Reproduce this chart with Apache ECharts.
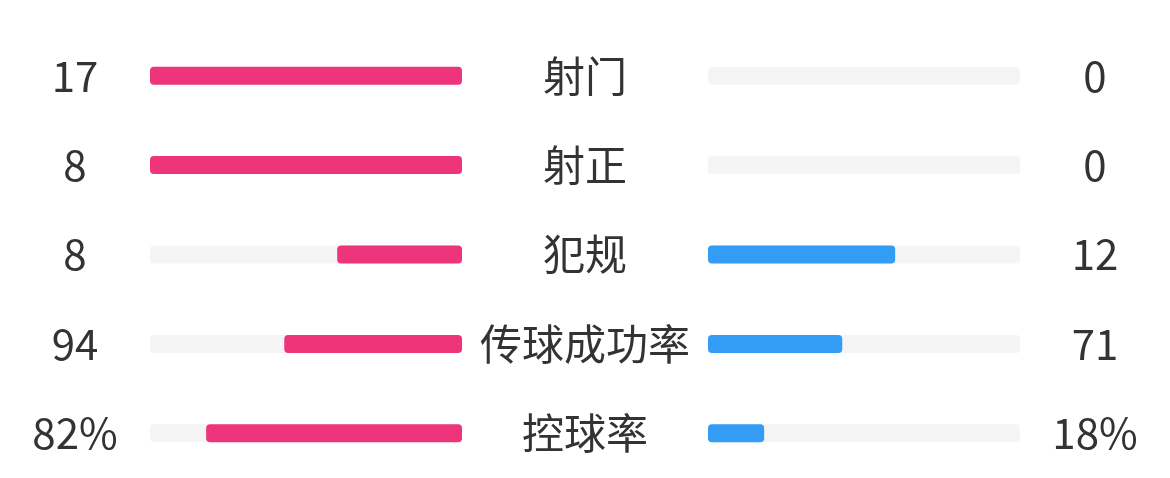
<!DOCTYPE html>
<html><head><meta charset="utf-8">
<script src="https://cdn.jsdelivr.net/npm/echarts@6/dist/echarts.min.js"></script>
<style>html,body{margin:0;padding:0;background:#fff}#c{width:1170px;height:478px}</style>
</head><body><div id="c"></div>
<script>
const categories = ['射门', '射正', '犯规', '传球成功率', '控球率'];
const leftValues = [17, 8, 8, 94, 82];
const rightValues = [0, 0, 12, 71, 18];
const units = ['', '', '', '', '%'];

const leftShare = leftValues.map((v, i) => { const t = v + rightValues[i]; return t ? v / t : 0; });
const rightShare = rightValues.map((v, i) => { const t = v + leftValues[i]; return t ? v / t : 0; });

const FONT = '"Noto Sans CJK SC", "Noto Sans", sans-serif';
const textStyle = { fontSize: 42, color: '#333333', fontFamily: FONT, align: 'center' };

const chart = echarts.init(document.getElementById('c'), null, { renderer: 'canvas' });
chart.setOption({
  animation: false,
  grid: [
    { left: 150, width: 312, top: 31, height: 451 },
    { left: 708, width: 312, top: 31, height: 451 }
  ],
  xAxis: [
    { gridIndex: 0, type: 'value', min: 0, max: 1, inverse: true, show: false },
    { gridIndex: 1, type: 'value', min: 0, max: 1, show: false }
  ],
  yAxis: [
    { gridIndex: 0, type: 'category', data: categories, inverse: true, position: 'left',
      axisLine: { show: false }, axisTick: { show: false },
      axisLabel: Object.assign({ margin: 75, formatter: (v, i) => leftValues[i] + units[i] }, textStyle) },
    { gridIndex: 1, type: 'category', data: categories, inverse: true, position: 'left',
      axisLine: { show: false }, axisTick: { show: false },
      axisLabel: Object.assign({ margin: 123 }, textStyle) },
    { gridIndex: 1, type: 'category', data: categories, inverse: true, position: 'right',
      axisLine: { show: false }, axisTick: { show: false },
      axisLabel: Object.assign({ margin: 75, formatter: (v, i) => rightValues[i] + units[i] }, textStyle) }
  ],
  series: [
    { type: 'bar', xAxisIndex: 0, yAxisIndex: 0, data: leftShare, barWidth: 18,
      itemStyle: { color: '#EE347B', borderRadius: 4 },
      showBackground: true, backgroundStyle: { color: '#F5F5F5', borderRadius: 4 } },
    { type: 'bar', xAxisIndex: 1, yAxisIndex: 1, data: rightShare, barWidth: 18,
      itemStyle: { color: '#339CF5', borderRadius: 4 },
      showBackground: true, backgroundStyle: { color: '#F5F5F5', borderRadius: 4 } }
  ]
});
</script>
</body></html>
